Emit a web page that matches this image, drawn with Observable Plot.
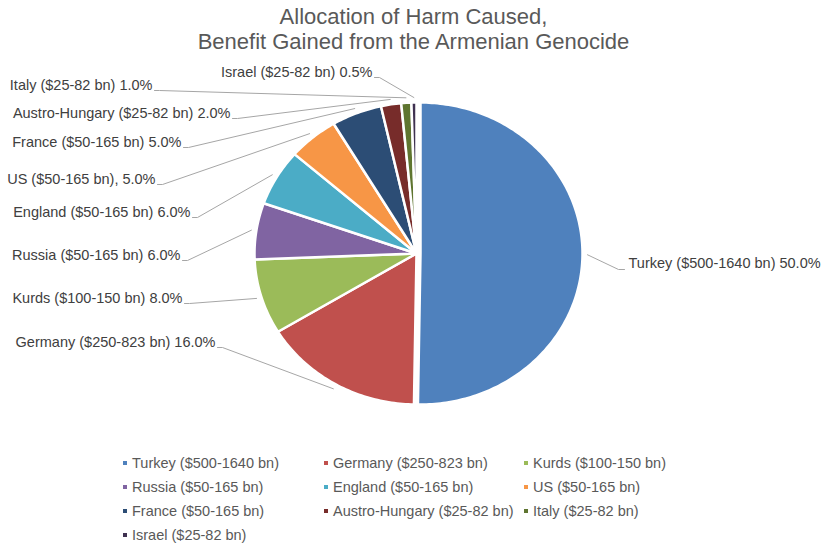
<!DOCTYPE html>
<html>
<head>
<meta charset="utf-8">
<script src="https://cdn.jsdelivr.net/npm/d3@7"></script>
<script src="https://cdn.jsdelivr.net/npm/@observablehq/plot@0.6"></script>
<style>
  html, body { margin: 0; padding: 0; background: #ffffff; }
  body { width: 827px; height: 544px; position: relative; overflow: hidden;
         font-family: "Liberation Sans", Arial, sans-serif; }
  #title { position: absolute; left: 0; top: 4px; width: 827px; text-align: center;
           font-size: 22px; line-height: 25px; color: #595959; }
  #chart { position: absolute; left: 0; top: 52px; }
  #legend { position: absolute; left: 123px; top: 451px; display: grid;
            grid-template-columns: 201px 200px auto; grid-auto-rows: 24px;
            font-size: 14.5px; color: #595959; }
  .item { display: flex; align-items: center; white-space: nowrap; }
  .sw { width: 4px; height: 4px; margin-right: 5px; display: inline-block; }
</style>
</head>
<body>
<div id="title">Allocation of Harm Caused,<br>Benefit Gained from the Armenian Genocide</div>
<div id="chart"></div>
<div id="legend"></div>
<script>
// ---- data ----
const names = ["Turkey", "Germany", "Kurds", "Russia", "England", "US", "France", "Austro-Hungary", "Italy", "Israel"];
const ranges = ["$500-1640 bn", "$250-823 bn", "$100-150 bn", "$50-165 bn", "$50-165 bn", "$50-165 bn", "$50-165 bn", "$25-82 bn", "$25-82 bn", "$25-82 bn"];
const shares = [50, 16, 8, 6, 6, 5, 5, 2, 1, 0.5];
const pctLabels = ["50.0%", "16.0%", "8.0%", "6.0%", "6.0%", "5.0%", "5.0%", "2.0%", "1.0%", "0.5%"];
const labelSeparators = [" ", " ", " ", " ", " ", ", ", " ", " ", " ", " "];
const colors = ["#4F81BD", "#C0504D", "#9BBB59", "#8064A2", "#4BACC6", "#F79646", "#2C4D75", "#772C2A", "#5F7530", "#3F3150"];

// ---- layout (pixel geometry, page coordinates) ----
const PIE = {cx: 416, cy: 253, rx: 162, ry: 151};
const explode = [4, 0, 0, 0, 0, 0, 0, 0, 0, 0];
// label anchor: [x, yCenter] — text end for left labels, text start for Turkey
const labelAnchor = [[628, 263], [215, 342], [182, 298], [180, 255], [190, 212], [155, 179], [181, 142], [230, 113], [152, 85], [372, 72]];

const rows = names.map((n, i) => ({
  name: n, range: ranges[i], value: shares[i], color: colors[i],
  label: `${n} (${ranges[i]})${labelSeparators[i]}${pctLabels[i]}`
}));

const arcs = d3.pie().sort(null).value(d => d.value).startAngle(0).endAngle(2 * Math.PI)(rows);

const slicePts = [];
const leaderPts = [];
const labelRows = [];
arcs.forEach((a, i) => {
  const d = a.data;
  const mid = (a.startAngle + a.endAngle) / 2;
  const ox = explode[i] * Math.sin(mid), oy = -explode[i] * Math.cos(mid);
  const cx = PIE.cx + ox, cy = PIE.cy + oy;
  slicePts.push({name: d.name, x: cx, y: cy});
  const n = Math.max(2, Math.ceil((a.endAngle - a.startAngle) / (Math.PI / 180)));
  for (let k = 0; k <= n; k++) {
    const t = a.startAngle + (a.endAngle - a.startAngle) * k / n;
    slicePts.push({name: d.name, x: cx + PIE.rx * Math.sin(t), y: cy - PIE.ry * Math.cos(t)});
  }
  // leader line
  const px = cx + (PIE.rx + 5) * Math.sin(mid), py = cy - (PIE.ry + 5) * Math.cos(mid);
  const [lx, ly] = labelAnchor[i];
  const isRight = Math.sin(mid) > 0.5;
  if (isRight) {
    leaderPts.push({name: d.name, x: px, y: py});
    leaderPts.push({name: d.name, x: lx - 10, y: ly + 6});
    leaderPts.push({name: d.name, x: lx - 4, y: ly + 6});
  } else {
    leaderPts.push({name: d.name, x: lx + 2, y: ly + 5});
    leaderPts.push({name: d.name, x: lx + 7, y: ly + 5});
    leaderPts.push({name: d.name, x: px, y: py});
  }
  labelRows.push({name: d.name, x: lx, y: ly, text: d.label, right: isRight});
});

const chart = Plot.plot({
  width: 827,
  height: 398,
  margin: 0,
  x: {domain: [0, 827], range: [0, 827], axis: null},
  y: {domain: [52, 450], range: [0, 398], axis: null},
  color: {domain: names, range: colors},
  style: {fontFamily: "'Liberation Sans', Arial, sans-serif", background: "transparent", overflow: "visible"},
  marks: [
    Plot.line(leaderPts, {x: "x", y: "y", z: "name", stroke: "#a6a6a6", strokeWidth: 1}),
    Plot.line(slicePts, {x: "x", y: "y", z: "name", fill: "name", stroke: "white", strokeWidth: 2.5, curve: "linear-closed"}),
    Plot.text(labelRows.filter(d => !d.right), {x: "x", y: "y", text: "text", textAnchor: "end", fontSize: 14.5, fill: "#404040"}),
    Plot.text(labelRows.filter(d => d.right), {x: "x", y: "y", text: "text", textAnchor: "start", fontSize: 14.5, fill: "#404040"})
  ]
});
document.getElementById("chart").appendChild(chart);

// legend
const legend = document.getElementById("legend");
rows.forEach(d => {
  const item = document.createElement("div");
  item.className = "item";
  const sw = document.createElement("span");
  sw.className = "sw";
  sw.style.background = d.color;
  const tx = document.createElement("span");
  tx.textContent = `${d.name} (${d.range})`;
  item.appendChild(sw);
  item.appendChild(tx);
  legend.appendChild(item);
});
</script>
</body>
</html>
